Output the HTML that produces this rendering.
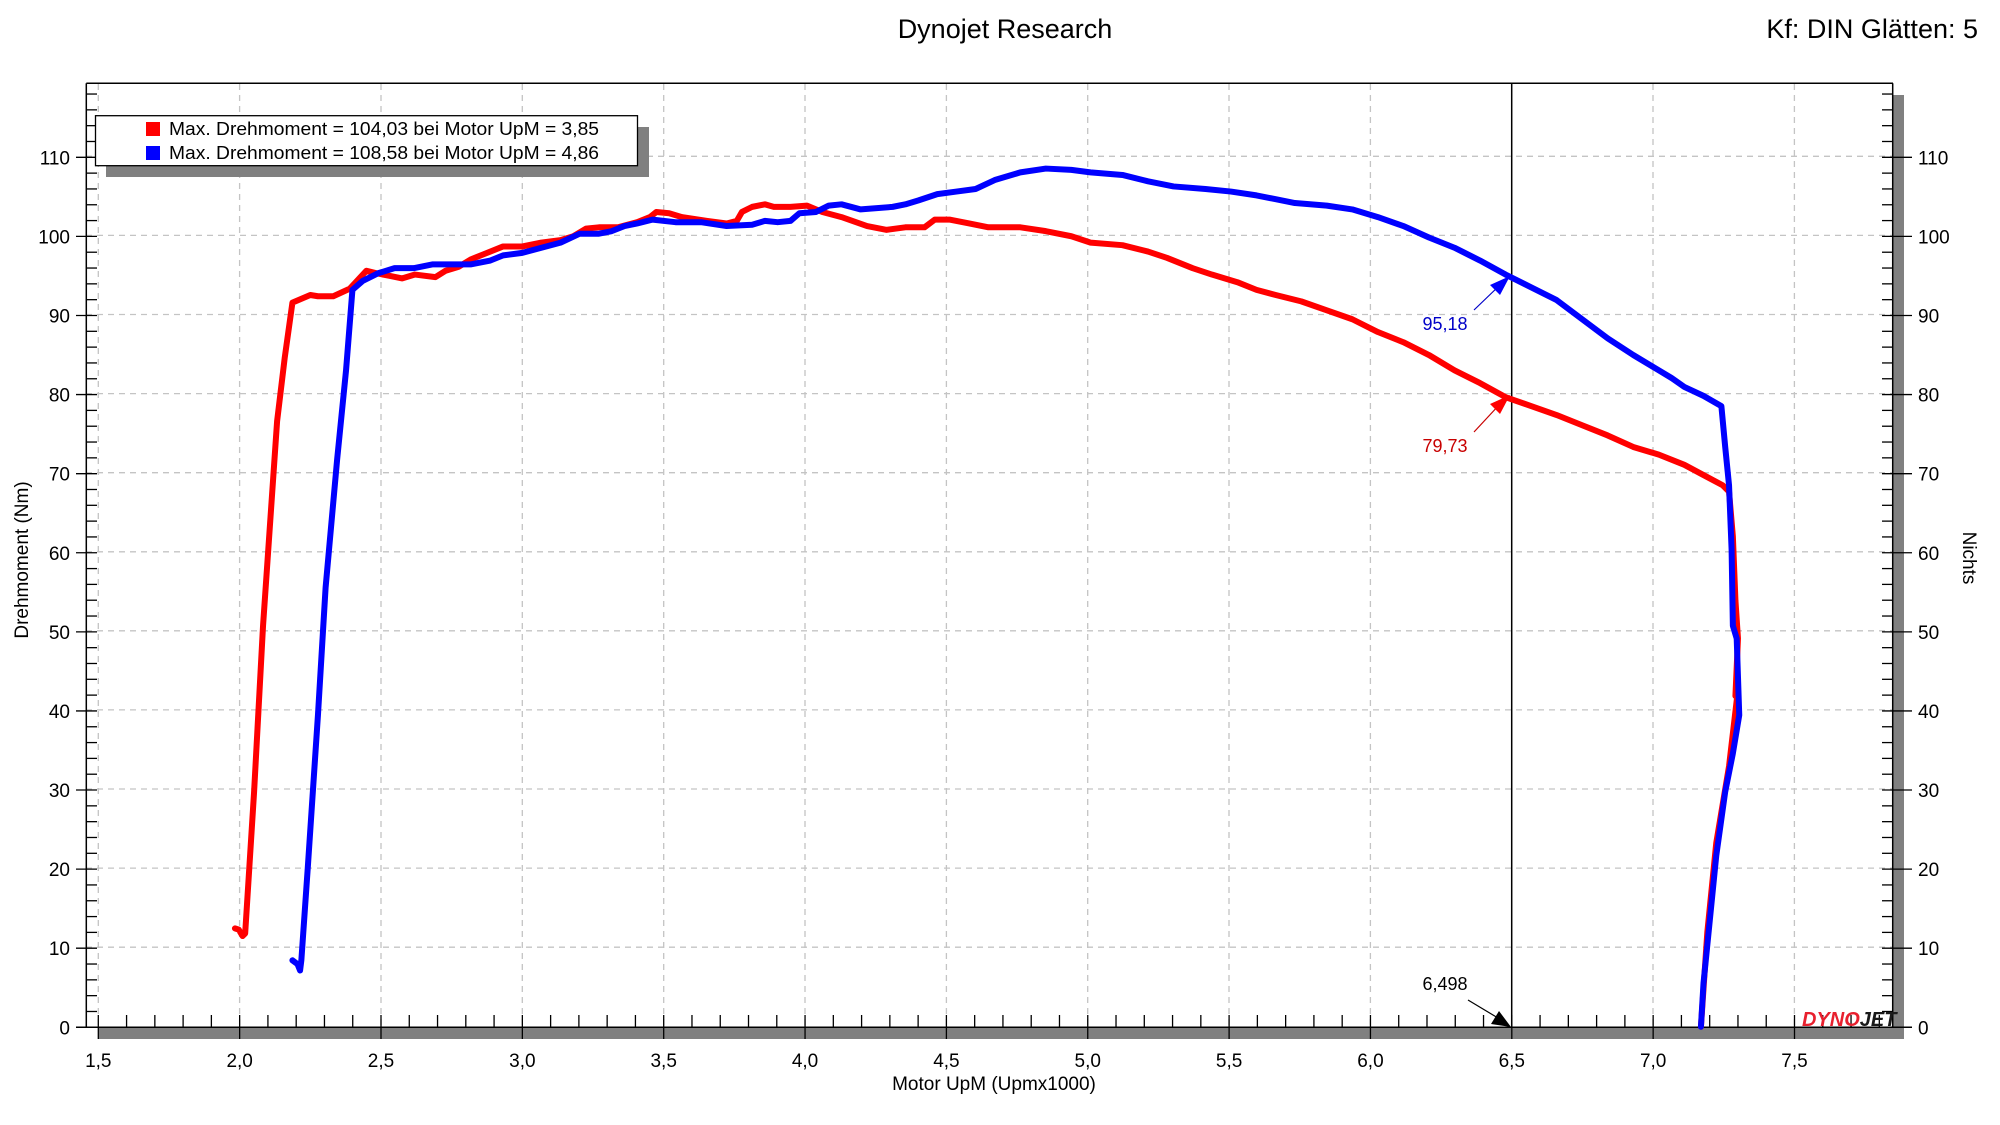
<!DOCTYPE html>
<html><head><meta charset="utf-8"><style>
html,body{margin:0;padding:0;background:#fff;}
svg{display:block;font-family:"Liberation Sans","DejaVu Sans",sans-serif;}
</style></head><body>
<svg width="2000" height="1125" viewBox="0 0 2000 1125" xmlns="http://www.w3.org/2000/svg">
<rect width="2000" height="1125" fill="#fff"/>
<text x="1005" y="38" font-size="27" text-anchor="middle">Dynojet Research</text>
<text x="1978" y="38" font-size="27" text-anchor="end">Kf: DIN Glätten: 5</text>

<rect x="1893" y="95" width="11" height="944" fill="#808080"/>
<rect x="98" y="1027" width="1806" height="12" fill="#808080"/>

<g stroke="#c4c4c4" stroke-width="1.3" stroke-dasharray="6,5">
<line x1="98.3" y1="84" x2="98.3" y2="1027"/>
<line x1="239.6" y1="84" x2="239.6" y2="1027"/>
<line x1="381" y1="84" x2="381" y2="1027"/>
<line x1="522.3" y1="84" x2="522.3" y2="1027"/>
<line x1="663.7" y1="84" x2="663.7" y2="1027"/>
<line x1="805" y1="84" x2="805" y2="1027"/>
<line x1="946.4" y1="84" x2="946.4" y2="1027"/>
<line x1="1087.7" y1="84" x2="1087.7" y2="1027"/>
<line x1="1229" y1="84" x2="1229" y2="1027"/>
<line x1="1370.4" y1="84" x2="1370.4" y2="1027"/>
<line x1="1653" y1="84" x2="1653" y2="1027"/>
<line x1="1794.4" y1="84" x2="1794.4" y2="1027"/>
<line x1="86" y1="947.2" x2="1893" y2="947.2"/>
<line x1="86" y1="868.1" x2="1893" y2="868.1"/>
<line x1="86" y1="789" x2="1893" y2="789"/>
<line x1="86" y1="709.9" x2="1893" y2="709.9"/>
<line x1="86" y1="630.8" x2="1893" y2="630.8"/>
<line x1="86" y1="551.8" x2="1893" y2="551.8"/>
<line x1="86" y1="472.7" x2="1893" y2="472.7"/>
<line x1="86" y1="393.6" x2="1893" y2="393.6"/>
<line x1="86" y1="314.5" x2="1893" y2="314.5"/>
<line x1="86" y1="235.4" x2="1893" y2="235.4"/>
<line x1="86" y1="156.3" x2="1893" y2="156.3"/>
</g>

<g stroke="#000" stroke-width="1.5" fill="none">
<line x1="86.3" y1="83.3" x2="1893" y2="83.3"/>
<line x1="86.3" y1="83.3" x2="86.3" y2="1027.3"/>
<line x1="1892.7" y1="83.3" x2="1892.7" y2="1027.3"/>
<line x1="76" y1="1027.3" x2="1912" y2="1027.3"/>
<line x1="1511.7" y1="83.3" x2="1511.7" y2="1027.3"/>
</g>

<g id="ticks" stroke="#000" stroke-width="1.3"></g>
<g id="labels" font-size="19"></g>

<text x="994" y="1090" font-size="19" text-anchor="middle">Motor UpM (Upmx1000)</text>
<text transform="translate(28,560) rotate(-90)" font-size="19" text-anchor="middle">Drehmoment (Nm)</text>
<text transform="translate(1963,558) rotate(90)" font-size="19" text-anchor="middle">Nichts</text>

<g transform="translate(-1.3,0) scale(1.277)" fill="none" stroke-width="4.7" stroke-linejoin="round" stroke-linecap="round">
<polyline stroke="#ff0000" points="185,727 188,728 191,733 193,731 200,620 207,490 218,330 224,280 230,237 244,231 250,232 262,232 275,226 288,212 296,214 306,216 316,218 326,215 342,217 350,212 360,209 370,203 380,199 395,193 410,193 425,190 440,188 450,185 460,179 470,178 485,178 500,174 510,170 515,166 525,167 535,170 555,173 570,175 578,173 582,166 590,162 600,160 607,162 620,162 633,161 645,166 660,170 680,177 695,180 710,178 725,178 733,172 745,172 760,175 775,178 800,178 820,181 840,185 855,190 880,192 900,197 915,202 935,210 950,215 970,221 985,227 1000,231 1020,236 1040,243 1060,250 1080,260 1100,268 1120,278 1140,290 1160,300 1180,311 1200,318 1220,325 1240,333 1260,341 1280,350 1300,356 1320,364 1335,372 1350,380 1355,385 1358,420 1360,470 1362,500 1360,545 1362,540 1355,600 1345,660 1338,730 1333,804"/>
<polyline stroke="#0000ff" points="230,752 234,755 236,760 237,752 242,680 250,560 256,460 265,360 272,290 277,227 285,220 297,214 310,210 325,210 340,207 355,207 370,207 385,204 395,200 410,198 425,194 440,190 455,183 470,183 480,181 490,177 500,175 512,172 530,174 550,174 570,177 590,176 600,173 610,174 620,173 627,167 640,166 650,161 660,160 675,164 700,162 710,160 720,157 735,152 750,150 765,148 780,141 800,135 820,132 840,133 855,135 880,137 900,142 920,146 945,148 965,150 985,153 1000,156 1015,159 1040,161 1060,164 1080,170 1100,177 1120,186 1140,194 1160,204 1180,215 1200,225 1220,235 1240,250 1260,265 1280,278 1300,290 1310,296 1320,303 1335,310 1349,318 1352,350 1355,380 1357,430 1358,490 1361,500 1362,530 1363,560 1358,590 1352,620 1345,670 1340,720 1335,770 1333,804"/>
</g>

<g font-size="18" text-anchor="middle">
<text x="1445" y="330" fill="#0000c8">95,18</text>
<text x="1445" y="452" fill="#c80000">79,73</text>
<text x="1445" y="990" fill="#000">6,498</text>
</g>
<line x1="1474" y1="310" x2="1500" y2="285" stroke="#0000c8" stroke-width="1.2"/>
<polygon points="1510,276 1490,285 1500,295" fill="#0000ff"/>
<line x1="1474" y1="432" x2="1500" y2="404" stroke="#c80000" stroke-width="1.2"/>
<polygon points="1510,395 1490,404 1500,414" fill="#ff0000"/>
<line x1="1468" y1="1000" x2="1498" y2="1018" stroke="#000" stroke-width="1.2"/>
<polygon points="1511,1027 1491,1024 1499,1011" fill="#000"/>

<text x="1802" y="1026" font-size="20" font-weight="bold" font-style="italic" fill="#e8202e">DYNO<tspan fill="#1a1a1a">JET</tspan></text>

<rect x="106" y="127" width="543" height="50" fill="#808080"/>
<rect x="95.5" y="115.7" width="542" height="50" fill="#fff" stroke="#000" stroke-width="1.3"/>
<rect x="146" y="122" width="14" height="14" fill="#ff0000"/>
<rect x="146" y="146" width="14" height="14" fill="#0000ff"/>
<text x="169" y="135" font-size="18.5" textLength="430" lengthAdjust="spacingAndGlyphs">Max. Drehmoment = 104,03 bei Motor UpM = 3,85</text>
<text x="169" y="159" font-size="18.5" textLength="430" lengthAdjust="spacingAndGlyphs">Max. Drehmoment = 108,58 bei Motor UpM = 4,86</text>

<script>
(function(){
var ns="http://www.w3.org/2000/svg";
var t=document.getElementById("ticks"),L=document.getElementById("labels");
function ln(a,b,c,d){var e=document.createElementNS(ns,"line");e.setAttribute("x1",a);e.setAttribute("y1",b);e.setAttribute("x2",c);e.setAttribute("y2",d);t.appendChild(e);}
function tx(x,y,s,anc){var e=document.createElementNS(ns,"text");e.setAttribute("x",x);e.setAttribute("y",y);e.setAttribute("text-anchor",anc);e.textContent=s;L.appendChild(e);}
function Y(v){return 1027.3-v*7.909;}
function X(v){return 98.3+(v-1.5)*282.7;}
for(var v=0;v<=118;v+=2){var y=Y(v);
 if(v%10==0){ln(76,y,97,y);ln(1882,y,1912,y);tx(70,y+7,String(v),"end");tx(1918,y+7,String(v),"start");}
 else{ln(86,y,97,y);ln(1882,y,1893,y);}}
for(var i=0;i<=70;i++){var v=1.5+i*0.1;var x=X(v);if(x>1890)break;
 if(i%5==0){ln(x,1015,x,1039);tx(x,1067,v.toFixed(1).replace(".",","),"middle");}
 else ln(x,1015,x,1027);}
})();
</script>
</svg>
</body></html>
